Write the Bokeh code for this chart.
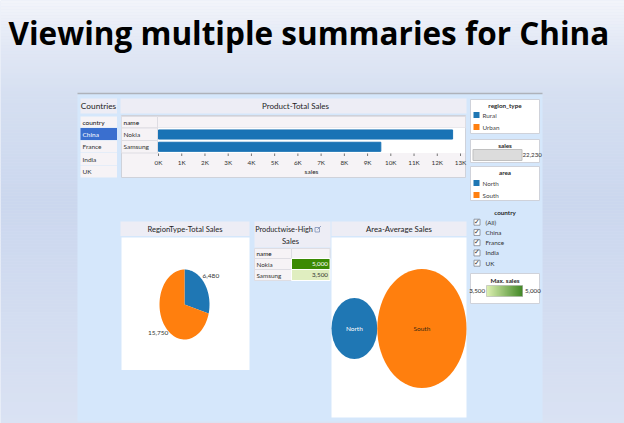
import numpy as np
from bokeh.plotting import figure
from bokeh.models import Range1d
from bokeh.core.properties import value
from bokeh.embed import file_html
from bokeh.resources import INLINE

# ---------------- data ----------------
title_text = "Viewing multiple summaries for China"
countries = ["China", "France", "India", "UK"]
selected_country = "China"
products = ["Nokia", "Samsung"]
product_total_sales = [12660, 9570]
sales_ticks = list(range(0, 14000, 1000))
sales_tick_labels = [f"{t // 1000}K" for t in sales_ticks]
region_types = ["Rural", "Urban"]
region_total_sales = [6480, 15750]
region_sales_labels = ["6,480", "15,750"]
product_max_sales = [5000, 3500]
product_max_labels = ["5,000", "3,500"]
areas = ["North", "South"]
area_avg_sales = [1480, 5620]
total_sales_label = "22,230"
max_sales_extent = [3500, 5000]
max_sales_extent_labels = ["3,500", "5,000"]
country_filter = ["(All)", "China", "France", "India", "UK"]

BLUE = "#1f77b4"
ORANGE = "#ff7f0e"
HEADER = "#ededf5"
CELL = "#f6f3f6"
BORDER = "#cfd2da"
FONT = "Lato"

# ---------------- figure (coordinates = reference pixels) ----------------
X0, Y0 = 0, 0
W, H = 624, 423
p = figure(width=W, height=H, x_range=Range1d(X0, X0 + W), y_range=Range1d(Y0 + H, Y0),
           output_backend="svg", toolbar_location=None, min_border=0,
           x_axis_location=None, y_axis_location=None)
p.grid.visible = False
p.outline_line_color = None
p.background_fill_color = "#dbe3f3"
p.border_fill_color = "#dbe3f3"


def hexrgb(h):
    h = h.lstrip("#")
    return [int(h[i:i + 2], 16) for i in (0, 2, 4)]


def mix(c1, c2, t):
    a, b = hexrgb(c1), hexrgb(c2)
    return "#%02x%02x%02x" % tuple(int(round(a[i] + (b[i] - a[i]) * t)) for i in range(3))


# slide background gradient
stops_y = [0, 45, 95, 200, 423]
stops_c = ["#f2f4fa", "#e2e8f5", "#d5dff1", "#cbd7ee", "#dae2f3"]
band_top = np.arange(0, 426, 3)
band_cols = []
for yy in band_top:
    rgb = [np.interp(yy, stops_y, [hexrgb(c)[k] for c in stops_c]) for k in range(3)]
    band_cols.append("#%02x%02x%02x" % tuple(int(round(v)) for v in rgb))
p.quad(left=0, right=624, top=band_top, bottom=band_top + 3.2, fill_color=band_cols, line_color=None)


def box(l, r, t, b, fill, line=None, lw=1, alpha=1.0):
    p.quad(left=[l], right=[r], top=[t], bottom=[b], fill_color=fill, line_color=line,
           line_width=lw, fill_alpha=alpha)


def txt(x, y, s, size=7.5, color="#262626", align="left", bold=False, font=FONT, baseline="middle"):
    p.text(x=[x], y=[y], text=[s], text_font=value(font), text_font_size=f"{size}px",
           text_color=color, text_align=align, text_baseline=baseline,
           text_font_style="bold" if bold else "normal")


# title
txt(8, 31.5, title_text, size=31.5, color="#000000", bold=True, font="Open Sans", baseline="alphabetic")

# dashboard background
box(77, 542, 93, 421, "#d5e7fb")
p.segment(x0=[77], x1=[542], y0=[93], y1=[93], line_color="#aeb2ba", line_width=1.5)

# ---------- Countries panel ----------
box(80, 116.5, 98, 113, HEADER)
txt(98, 105.5, "Countries", size=8.3, align="center", color="#1e1e1e")
box(80, 116.5, 116, 127, CELL)
txt(82, 122, "country", size=6.5, color="#111111")
for i, c in enumerate(countries):
    top = 127.5 + 12.5 * i
    sel = c == selected_country
    box(80, 116.5, top, top + 12, "#3a6fcf" if sel else CELL)
    txt(82, top + 6, c, size=6.5, color="#ffffff" if sel else "#333333")

# ---------- Product-Total Sales ----------
box(120, 466, 98, 113, HEADER)
txt(295, 105.5, "Product-Total Sales", size=8, align="center", color="#1e1e1e")
box(121, 465, 115, 177, CELL, line=BORDER)
box(121, 157, 116, 127.5, CELL, line="#dedde3")
box(157, 465, 116, 127.5, CELL, line="#dedde3")
txt(123, 121.5, "name", size=6.5, color="#111111")
box(157.5, 464.5, 127.5, 152.5, "#ffffff")
p.extra_x_ranges["sales"] = Range1d(-(158 - X0) * 13000 / 302, (X0 + W - 158) * 13000 / 302)
p.extra_y_ranges["rows"] = Range1d((Y0 + H - 134) / 12.3, (Y0 - 134) / 12.3)
for i, prod in enumerate(products):
    top = 127.5 + 12.5 * i
    box(121, 157, top, top + 12.5, CELL, line="#dedde3")
    txt(123, top + 6.2, prod, size=6.5, color="#333333")
p.hbar(y=list(range(len(products))), left=0, right=product_total_sales, height=0.74,
       fill_color="#1a73b5", line_color="#1a73b5", x_range_name="sales", y_range_name="rows")
p.segment(x0=sales_ticks, x1=sales_ticks, y0=153, y1=155.5, line_color="#777777",
          x_range_name="sales")
p.text(x=sales_ticks, y=162, text=sales_tick_labels, text_font=value(FONT),
       text_font_size="6.3px", text_color="#333333", text_align="center",
       text_baseline="middle", x_range_name="sales")
txt(311, 170.5, "sales", size=6.5, align="center")

# ---------- right-hand legends ----------
box(470, 539, 99, 133, "#ffffff", line=BORDER)
txt(504.5, 105, "region_type", size=6.3, bold=True, align="center")
for i, (lab, col) in enumerate(zip(region_types, [BLUE, ORANGE])):
    yc = 114.5 + 12 * i
    box(473, 479, yc - 3, yc + 3, col)
    txt(482, yc, lab, size=6.3, color="#444444")

box(470, 539, 139, 162, "#ffffff", line=BORDER)
txt(504.5, 145, "sales", size=6.3, bold=True, align="center")
box(472.5, 521.5, 149, 160, "#dcdcdc", line="#c0c0c0")
txt(522, 154.5, total_sales_label, size=6.2, color="#333333")

box(470, 539, 166, 200, "#ffffff", line=BORDER)
txt(504.5, 171.5, "area", size=6.3, bold=True, align="center")
for i, (lab, col) in enumerate(zip(areas, [BLUE, ORANGE])):
    yc = 182.5 + 12 * i
    box(473, 479, yc - 3, yc + 3, col)
    txt(482, yc, lab, size=6.3, color="#444444")

txt(504.5, 211.5, "country", size=6.3, bold=True, align="center")
for i, lab in enumerate(country_filter):
    yc = 221.7 + 10.25 * i
    box(473.5, 479.5, yc - 3, yc + 3, "#ffffff", line="#7f8590", lw=0.8)
    txt(476.5, yc - 0.5, "\u2713", size=7, color="#333333", align="center", font="DejaVu Sans")
    txt(485, yc, lab, size=6.3, color="#333333")

box(470, 539, 273, 303, "#ffffff", line=BORDER)
txt(504.5, 279.5, "Max. sales", size=6.3, bold=True, align="center")
gx = np.linspace(486, 522, 37)
gcols = [mix("#d9eea8", "#2f7c10", t) for t in np.linspace(0, 1, 36)]
p.quad(left=gx[:-1], right=gx[1:] + 0.3, top=285, bottom=296, fill_color=gcols, line_color=None)
box(486, 522, 285, 296, None, line="#b5b5b5", lw=0.6)
txt(484.5, 290.5, max_sales_extent_labels[0], size=6.2, align="right")
txt(524.5, 290.5, max_sales_extent_labels[1], size=6.2)

# ---------- RegionType-Total Sales (pie) ----------
box(120, 249, 221, 235.5, HEADER)
txt(184.5, 228.5, "RegionType-Total Sales", size=7.6, align="center", color="#1e1e1e")
box(121, 249, 237, 369.5, "#ffffff")
cx, cy, rx, ry = 184, 304, 25, 35
p.extra_x_ranges["pie_x"] = Range1d((X0 - cx) / rx, (X0 + W - cx) / rx)
p.extra_y_ranges["pie_y"] = Range1d((cy - Y0 - H) / ry, (cy - Y0) / ry)
tot = sum(region_total_sales)
fr = np.cumsum([0] + region_total_sales) / tot
xs, ys, lx, ly = [], [], [], []
for i in range(len(region_total_sales)):
    th = np.linspace(2 * np.pi * fr[i], 2 * np.pi * fr[i + 1], 80)
    xs.append([0.0] + list(np.sin(th)))
    ys.append([0.0] + list(np.cos(th)))
    mid = np.pi * (fr[i] + fr[i + 1])
    lx.append(1.33 * np.sin(mid))
    ly.append(1.33 * np.cos(mid))
p.patches(xs=xs, ys=ys, fill_color=[BLUE, ORANGE], line_color=None,
          x_range_name="pie_x", y_range_name="pie_y")
p.text(x=lx, y=ly, text=region_sales_labels, text_font=value(FONT), text_font_size="6.5px",
       text_color="#333333", text_align="center", text_baseline="middle",
       x_range_name="pie_x", y_range_name="pie_y")

# ---------- Productwise-High Sales (table) ----------
box(254, 330, 221, 247, HEADER)
txt(283.5, 229, "Productwise-High", size=7.3, align="center", color="#1e1e1e")
txt(290, 240, "Sales", size=7.6, align="center", color="#1e1e1e")
box(314.5, 319, 227, 231.5, None, line="#7d8fb5", lw=0.8)
p.segment(x0=[317], x1=[320.5], y0=[229], y1=[225.5], line_color="#7d8fb5", line_width=0.8)
box(254, 291, 248, 258, CELL, line="#dedde3")
box(291, 329.5, 248, 258, CELL, line="#dedde3")
txt(256, 253, "name", size=6.3, color="#111111")
lo, hi = max_sales_extent
for i, (prod, v, lab) in enumerate(zip(products, product_max_sales, product_max_labels)):
    top = 258 + 11 * i
    box(254, 291, top, top + 11, CELL, line="#dedde3")
    txt(256, top + 5.5, prod, size=6.3, color="#333333")
    t = (v - lo) / (hi - lo)
    box(291, 329.5, top, top + 11, mix("#e0eec0", "#3b8a03", t), line="#ffffff")
    txt(327.5, top + 5.5, lab, size=6.3, color="#ffffff" if t > 0.5 else "#333333", align="right")

# ---------- Area-Average Sales (bubbles) ----------
box(331, 466, 221, 235.5, HEADER)
txt(398.5, 228.5, "Area-Average Sales", size=7.8, align="center", color="#1e1e1e")
box(331, 466, 237, 417, "#ffffff")
bx0, by0, sx, sy = 331, 328, 1.19, 1.59
p.extra_x_ranges["bub_x"] = Range1d((X0 - bx0) / sx, (X0 + W - bx0) / sx)
p.extra_y_ranges["bub_y"] = Range1d((by0 - Y0 - H) / sy, (by0 - Y0) / sy)
diam = np.sqrt(area_avg_sales)
centers = np.cumsum(diam) - diam / 2
p.ellipse(x=centers, y=0, width=diam, height=diam, fill_color=[BLUE, ORANGE], line_color=None,
          x_range_name="bub_x", y_range_name="bub_y")
p.text(x=centers, y=0, text=areas, text_font=value(FONT), text_font_size="6.5px",
       text_color=["#ffffff", "#3a2a10"], text_align="center", text_baseline="middle",
       x_range_name="bub_x", y_range_name="bub_y")

open("out.html", "w").write(file_html(p, INLINE))
